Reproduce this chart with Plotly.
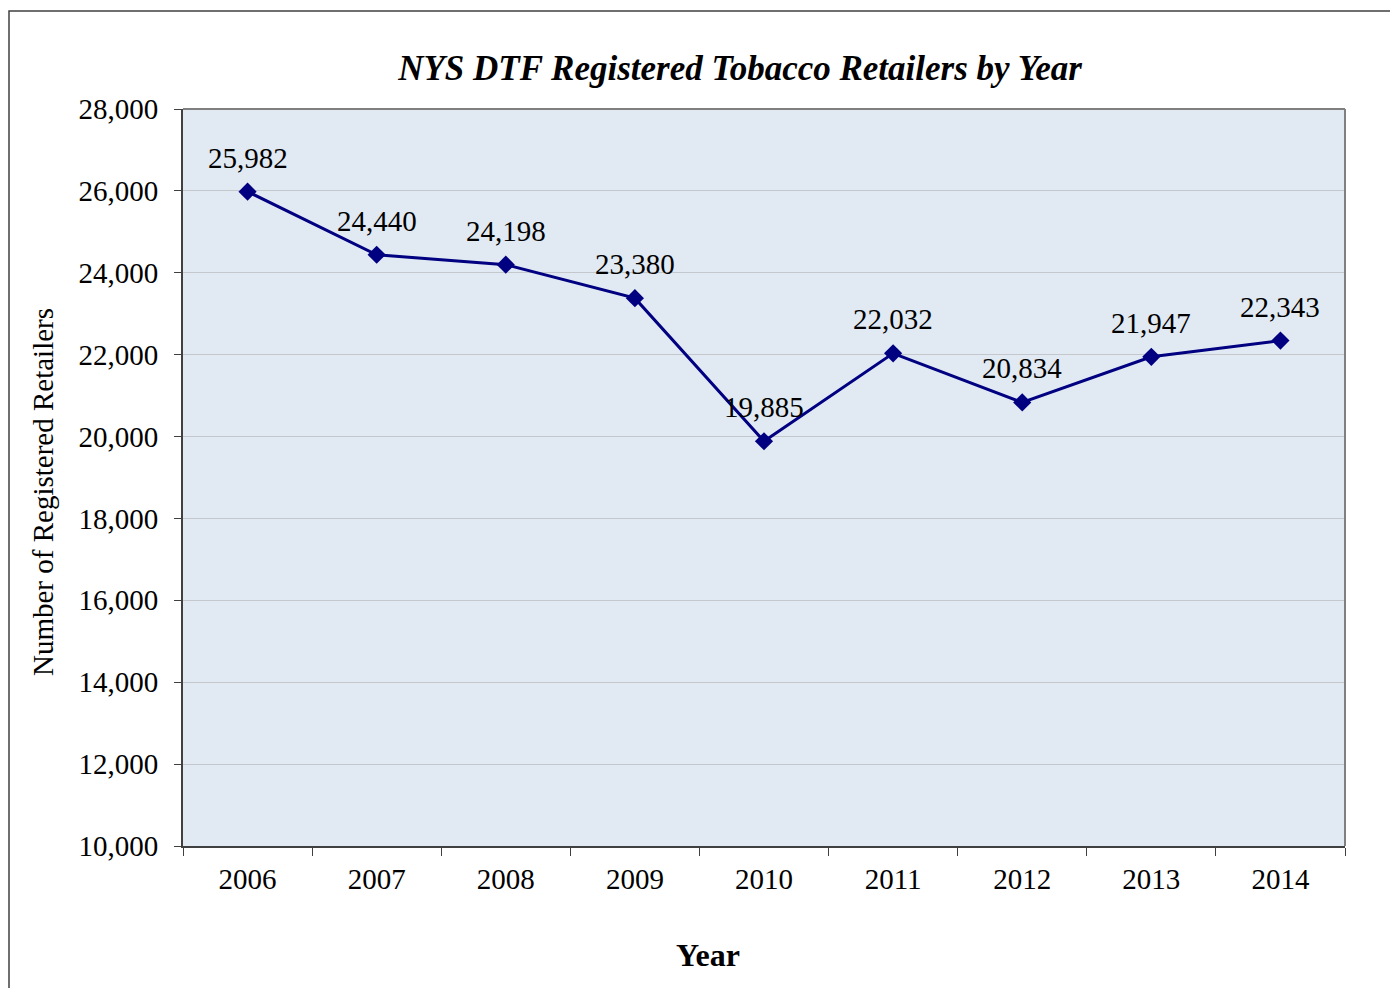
import plotly.graph_objects as go

years = ["2006", "2007", "2008", "2009", "2010", "2011", "2012", "2013", "2014"]
retailers = [25982, 24440, 24198, 23380, 19885, 22032, 20834, 21947, 22343]
labels = [f"{v:,}" for v in retailers]

W, H = 1398, 988
OFF = 8  # page body margin
L, R, T, B = 183 - OFF, 1345 - OFF, 109 - OFF, 846 - OFF
pw, ph = R - L, B - T

def px_x(x):
    return (x - OFF - L) / pw

def px_y(y):
    return (B - (y - OFF)) / ph

FONT = "Liberation Serif"

fig = go.Figure()
fig.add_trace(go.Scatter(
    x=years, y=retailers, mode="lines+markers",
    line=dict(color="#000080", width=3),
    marker=dict(symbol="diamond", size=14, color="#000080"),
    cliponaxis=False,
))

# data labels above each point (x given as category index)
for i, (v, lab) in enumerate(zip(retailers, labels)):
    fig.add_annotation(x=i, y=v, xref="x", yref="y", text=lab, showarrow=False,
                       yanchor="middle", xanchor="center", yshift=34,
                       font=dict(family=FONT, size=29, color="black"))

fig.update_layout(
    width=W, height=H,
    margin=dict(l=L, r=W - R, t=T, b=H - B),
    paper_bgcolor="white",
    plot_bgcolor="#E1E9F3",
    showlegend=False,
    font=dict(family=FONT, size=29, color="black"),
    title=dict(
        text="<b><i>NYS DTF Registered Tobacco Retailers by Year</i></b>",
        font=dict(family=FONT, size=35, color="black"),
        xref="container", x=(740 - OFF) / W, xanchor="center",
        yref="container", y=1 - (68 - OFF) / H, yanchor="middle",
    ),
)

fig.update_xaxes(
    type="category", range=[-0.5, 8.5],
    showline=True, linecolor="#404040", linewidth=2,
    ticks="outside", tickson="boundaries", ticklen=8, tickcolor="#404040",
    showgrid=False,
    tickfont=dict(family=FONT, size=29),
    ticklabelstandoff=6,
)
fig.update_yaxes(
    range=[10000, 28000], dtick=2000, tickformat=",",
    showline=True, linecolor="#404040", linewidth=2,
    ticks="outside", ticklen=7, tickcolor="#404040",
    showgrid=True, gridcolor="#C4C8CC", gridwidth=1,
    zeroline=False,
    tickfont=dict(family=FONT, size=29),
    ticklabelstandoff=10,
)

# axis titles (positioned as in the reference)
fig.add_annotation(xref="paper", yref="paper", x=px_x(708), y=px_y(955),
                   text="<b>Year</b>", showarrow=False,
                   xanchor="center", yanchor="middle",
                   font=dict(family=FONT, size=32, color="black"))
fig.add_annotation(xref="paper", yref="paper", x=px_x(43), y=px_y(492),
                   text="Number of Registered Retailers", showarrow=False,
                   textangle=-90, xanchor="center", yanchor="middle",
                   font=dict(family=FONT, size=29, color="black"))

# top and right plot-area borders (gray)
fig.add_shape(type="line", xref="paper", yref="paper", x0=0, x1=1, y0=1, y1=1,
              line=dict(color="#808080", width=2))
fig.add_shape(type="line", xref="paper", yref="paper", x0=1, x1=1, y0=0, y1=1,
              line=dict(color="#808080", width=2))
# outer chart border
fig.add_shape(type="rect", xref="paper", yref="paper",
              x0=px_x(9), x1=px_x(1391), y0=px_y(1010), y1=px_y(11),
              line=dict(color="#404040", width=1.5), layer="below")

fig.write_html("out.html")
